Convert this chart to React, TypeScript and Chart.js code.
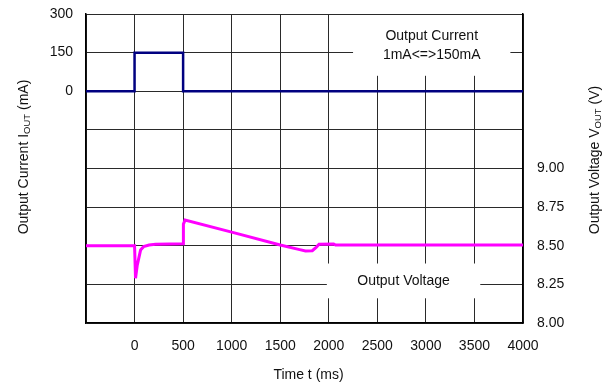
import React, { useEffect, useRef } from "react";
import { Chart, registerables } from "chart.js";

Chart.register(...registerables);

const currentTime = [-500, 0, 0, 500, 500, 4000];
const currentValues = [0, 0, 150, 150, 0, 0];

const voltageTime = [-500, 0, 10, 28, 62, 93, 150, 216, 500, 503, 520, 1000, 1500, 1700, 1760, 1830, 1870, 1900, 2050, 2070, 4000];
const voltageValues = [8.5, 8.5, 8.29, 8.375, 8.472, 8.494, 8.505, 8.51, 8.513, 8.64, 8.666, 8.588, 8.505, 8.475, 8.466, 8.468, 8.49, 8.51, 8.512, 8.505, 8.505];

const xTickMin = -500;
const xTickMax = 4000;
const xStep = 500;
const currentMin = -900;
const currentMax = 300;
const currentStep = 150;
const voltageMin = 8;
const voltageMax = 10;
const voltageStep = 0.25;

const FONT = "'Liberation Sans', Arial, sans-serif";

function drawSubTitle(ctx: CanvasRenderingContext2D, parts: { t: string; sub?: boolean }[], cx: number, cy: number) {
  ctx.save();
  ctx.translate(cx, cy);
  ctx.rotate(-Math.PI / 2);
  const big = `14px ${FONT}`;
  const small = `9.5px ${FONT}`;
  let total = 0;
  for (const p of parts) {
    ctx.font = p.sub ? small : big;
    total += ctx.measureText(p.t).width;
  }
  let x = -total / 2;
  ctx.textBaseline = "middle";
  ctx.fillStyle = "#111";
  for (const p of parts) {
    ctx.font = p.sub ? small : big;
    ctx.fillText(p.t, x, p.sub ? 3 : 0);
    x += ctx.measureText(p.t).width;
  }
  ctx.restore();
}

const overlayPlugin = {
  id: "overlay",
  beforeDatasetsDraw(chart: any) {
    const ctx = chart.ctx as CanvasRenderingContext2D;
    const xs = chart.scales.x;
    const ys = chart.scales.y;
    const y2 = chart.scales.y2;
    ctx.save();
    const b1x1 = xs.getPixelForValue(2250);
    const b1x2 = xs.getPixelForValue(3870);
    const b1y1 = ys.getPixelForValue(300) + 1;
    const b1y2 = ys.getPixelForValue(60);
    ctx.fillStyle = "#fff";
    ctx.fillRect(b1x1, b1y1, b1x2 - b1x1, b1y2 - b1y1);
    const b2x1 = xs.getPixelForValue(1980);
    const b2x2 = xs.getPixelForValue(3560);
    const b2y1 = y2.getPixelForValue(8.385);
    const b2y2 = y2.getPixelForValue(8.16);
    ctx.fillRect(b2x1, b2y1, b2x2 - b2x1, b2y2 - b2y1);
    ctx.fillStyle = "#111";
    ctx.font = `14px ${FONT}`;
    ctx.textAlign = "center";
    ctx.textBaseline = "middle";
    const c1 = (b1x1 + b1x2) / 2;
    ctx.fillText("Output Current", c1, ys.getPixelForValue(214));
    ctx.fillText("1mA<=>150mA", c1, ys.getPixelForValue(139));
    ctx.fillText("Output Voltage", (b2x1 + b2x2) / 2, (b2y1 + b2y2) / 2);
    ctx.restore();
  },
  afterDraw(chart: any) {
    const ctx = chart.ctx as CanvasRenderingContext2D;
    const area = chart.chartArea;
    drawSubTitle(ctx, [{ t: "Output Current I" }, { t: "OUT", sub: true }, { t: " (mA)" }], 24, 157);
    drawSubTitle(ctx, [{ t: "Output Voltage V" }, { t: "OUT", sub: true }, { t: " (V)" }], 595, 160);
    ctx.save();
    ctx.font = `14px ${FONT}`;
    ctx.fillStyle = "#111";
    ctx.textAlign = "center";
    ctx.textBaseline = "middle";
    ctx.fillText("Time t (ms)", (area.left + area.right) / 2 + 4, 375);
    ctx.restore();
  },
};

const noPad = (s: any) => {
  s.paddingTop = 0;
  s.paddingBottom = 0;
  s.paddingLeft = 0;
  s.paddingRight = 0;
};

export default function App() {
  const ref = useRef<HTMLCanvasElement>(null);
  useEffect(() => {
    if (!ref.current) return;
    const gridColor = "#2a2a2a";
    const chart = new Chart(ref.current, {
      type: "line",
      data: {
        datasets: [
          {
            label: "Output Current",
            data: currentTime.map((t, i) => ({ x: t, y: currentValues[i] })),
            borderColor: "#000080",
            borderWidth: 2.5,
            pointRadius: 0,
            tension: 0,
            yAxisID: "y",
          },
          {
            label: "Output Voltage",
            data: voltageTime.map((t, i) => ({ x: t, y: voltageValues[i] })),
            borderColor: "#ff00ff",
            borderWidth: 3,
            pointRadius: 0,
            tension: 0,
            yAxisID: "y2",
          },
        ],
      },
      options: {
        animation: false,
        responsive: false,
        events: [],
        layout: { padding: { top: 14, left: 0, right: 0, bottom: 0 } },
        plugins: { legend: { display: false }, tooltip: { enabled: false } },
        scales: {
          x: {
            type: "linear",
            min: xTickMin,
            max: xTickMax,
            ticks: {
              stepSize: xStep,
              padding: 15,
              color: "#111",
              font: { family: FONT, size: 14 },
              callback: (v: any) => (v >= 0 ? String(v) : ""),
            },
            grid: { color: gridColor, lineWidth: 1, drawTicks: false },
            border: { color: "#000", width: 1.5 },
            afterFit: (s: any) => {
              s.height = 65;
              noPad(s);
            },
          },
          y: {
            position: "left",
            min: currentMin,
            max: currentMax,
            ticks: {
              stepSize: currentStep,
              padding: 13,
              color: "#111",
              font: { family: FONT, size: 14 },
              callback: (v: any) => (v >= 0 ? String(v) : ""),
            },
            grid: { color: gridColor, lineWidth: 1, drawTicks: false },
            border: { color: "#000", width: 1.5 },
            afterFit: (s: any) => {
              s.width = 86;
              noPad(s);
            },
          },
          y2: {
            position: "right",
            min: voltageMin,
            max: voltageMax,
            ticks: {
              stepSize: voltageStep,
              padding: 14,
              color: "#111",
              font: { family: FONT, size: 14 },
              callback: (v: any) => (v <= 9.0001 ? Number(v).toFixed(2) : ""),
            },
            grid: { display: false, drawTicks: false },
            border: { color: "#000", width: 1.5 },
            afterFit: (s: any) => {
              s.width = 90;
              noPad(s);
            },
          },
        },
      },
      plugins: [overlayPlugin],
    } as any);
    return () => chart.destroy();
  }, []);
  return (
    <div style={{ position: "fixed", left: 0, top: 0, width: 613, height: 388, background: "#fff" }}>
      <canvas ref={ref} width={613} height={388} style={{ display: "block" }} />
    </div>
  );
}
